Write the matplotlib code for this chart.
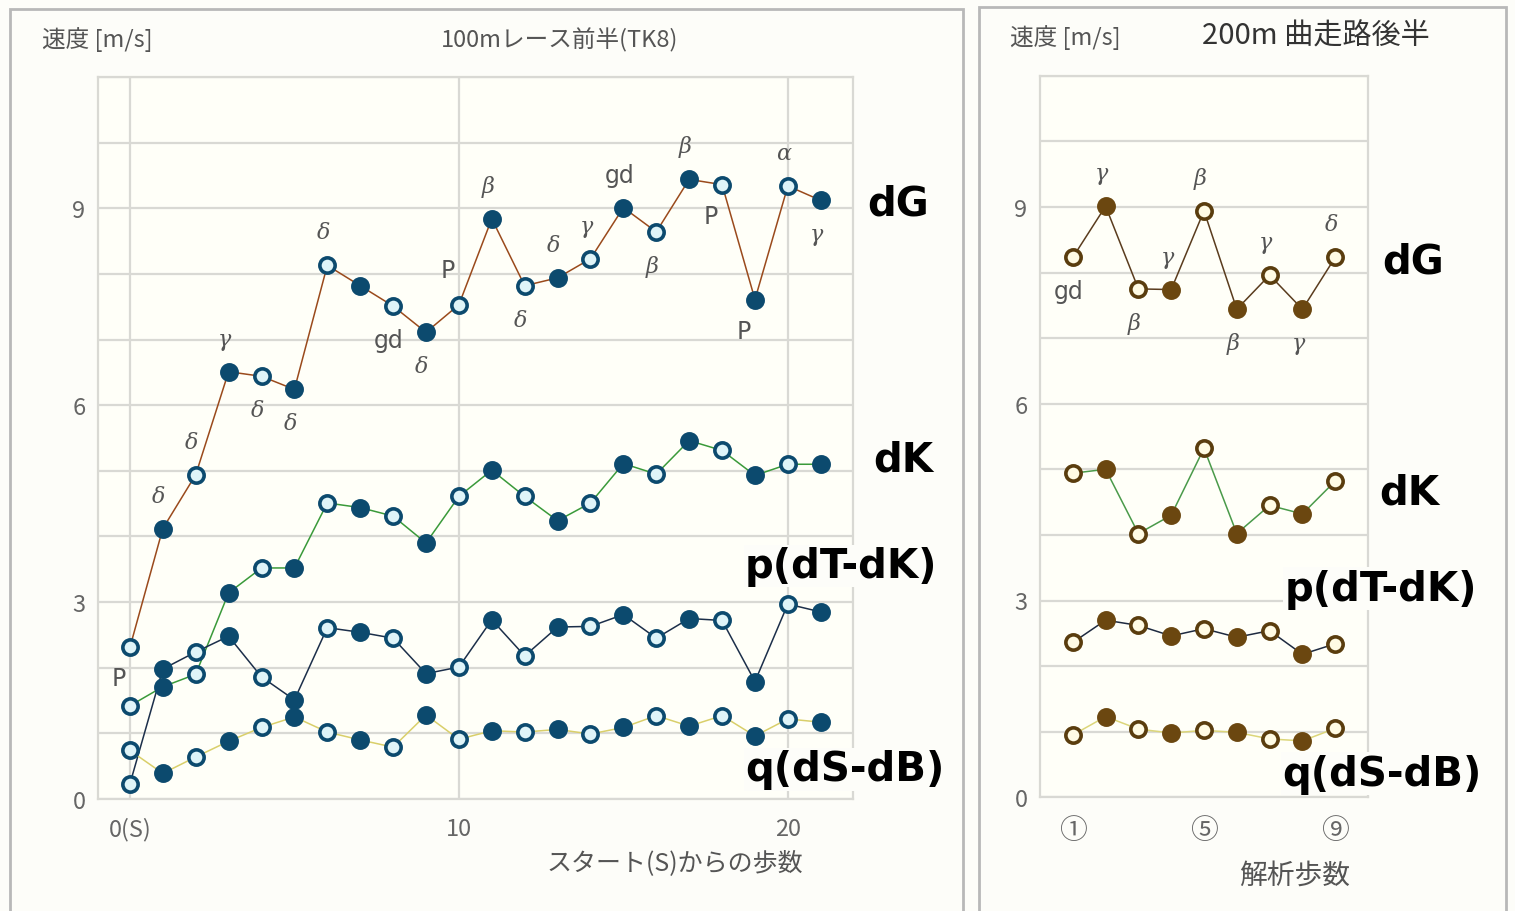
import matplotlib
matplotlib.use("Agg")
import matplotlib.pyplot as plt
from matplotlib.patches import Rectangle
from matplotlib.ticker import MultipleLocator

plt.rcParams['font.family'] = ['Noto Sans CJK JP', 'DejaVu Sans']

# -------------------------------------------------------------
# Data: 100m race first half (TK8)
# -------------------------------------------------------------
steps_100 = list(range(22))
dG_100 = [2.31, 4.12, 4.94, 6.51, 6.44, 6.24, 8.13, 7.82, 7.51, 7.11, 7.53,
          8.84, 7.82, 7.94, 8.23, 9.01, 8.64, 9.44, 9.36, 7.61, 9.34, 9.12]
dK_100 = [1.42, 1.71, 1.90, 3.14, 3.52, 3.52, 4.51, 4.44, 4.31, 3.90, 4.61,
          5.01, 4.61, 4.24, 4.51, 5.11, 4.95, 5.46, 5.31, 4.93, 5.10, 5.10]
p_100 = [0.23, 1.98, 2.24, 2.48, 1.86, 1.51, 2.61, 2.54, 2.45, 1.91, 2.01,
         2.73, 2.18, 2.62, 2.63, 2.81, 2.45, 2.75, 2.72, 1.79, 2.97, 2.85]
q_100 = [0.74, 0.39, 0.64, 0.88, 1.09, 1.25, 1.02, 0.90, 0.79, 1.28, 0.91,
         1.04, 1.02, 1.06, 0.99, 1.09, 1.27, 1.11, 1.27, 0.96, 1.22, 1.17]
tags_100 = ['P', 'δ', 'δ', 'γ', 'δ', 'δ', 'δ', '', 'gd', 'δ', 'P',
            'β', 'δ', 'δ', 'γ', 'gd', 'β', 'β', 'P', 'P', 'α', 'γ']
tag_pos_100 = ['bl', 'a', 'a', 'a', 'b', 'b', 'a', '', 'b', 'b', 'al',
               'a', 'b', 'a', 'a', 'a', 'b', 'a', 'bl', 'bl', 'a', 'b']
xticks_100 = [0, 10, 20]
xticklabels_100 = ['0(S)', '10', '20']

# -------------------------------------------------------------
# Data: 200m curve second half
# -------------------------------------------------------------
steps_200 = list(range(1, 10))
dG_200 = [8.23, 9.01, 7.75, 7.74, 8.94, 7.44, 7.96, 7.44, 8.23]
dK_200 = [4.94, 5.00, 4.02, 4.30, 5.32, 4.02, 4.45, 4.32, 4.82]
p_200 = [2.36, 2.70, 2.62, 2.46, 2.57, 2.44, 2.54, 2.18, 2.34]
q_200 = [0.95, 1.23, 1.04, 0.98, 1.02, 0.99, 0.89, 0.86, 1.05]
tags_200 = ['gd', 'γ', 'β', 'γ', 'β', 'β', 'γ', 'γ', 'δ']
tag_pos_200 = ['b', 'a', 'b', 'a', 'a', 'b', 'a', 'b', 'a']
xticks_200 = [1, 5, 9]
xticklabels_200 = ['①', '⑤', '⑨']

series_names = ['dG', 'dK', 'p(dT-dK)', 'q(dS-dB)']

W, H = 1515, 912
BG = '#fdfdf9'
PLOT_BG = '#fffff8'
GRID = '#d9d9d4'
TXT = '#666666'

TAG_OFFSETS = {'a': (-4, 33), 'b': (-4, -34), 'al': (-11, 35), 'bl': (-11, -31)}


def draw_series(ax, x, ys, line_colors, mk_fill, mk_open, mk_edge):
    for y, lc in zip(ys, line_colors):
        ax.plot(x, y, color=lc, lw=1.1, zorder=3)
        ax.plot(x[0::2], y[0::2], 'o', ms=11, mfc=mk_open, mec=mk_edge,
                mew=2.6, zorder=4, linestyle='none')
        ax.plot(x[1::2], y[1::2], 'o', ms=11, mfc=mk_fill, mec=mk_fill,
                mew=2.6, zorder=4, linestyle='none')


def style_axes(ax, xlim):
    ax.set_facecolor(PLOT_BG)
    ax.set_xlim(*xlim)
    ax.set_ylim(0, 11)
    ax.yaxis.set_major_locator(MultipleLocator(3))
    ax.yaxis.set_minor_locator(MultipleLocator(1))
    ax.grid(axis='y', which='both', color=GRID, lw=1.6, zorder=1)
    ax.set_axisbelow(True)
    for sp in ax.spines.values():
        sp.set_color(GRID)
        sp.set_linewidth(1.6)
    ax.tick_params(axis='both', which='both', length=0)
    ax.tick_params(axis='y', pad=9, labelsize=17, labelcolor=TXT)
    ax.tick_params(axis='x', pad=13, labelcolor=TXT)


def add_tags(ax, x, y, tags, pos):
    for xi, yi, t, p in zip(x, y, tags, pos):
        if not t:
            continue
        dx, dy = TAG_OFFSETS[p]
        greek = t in 'αβγδ'
        ax.annotate(t, (xi, yi), xytext=(dx, dy), textcoords='offset pixels',
                    ha='center', va='center', fontsize=16 if greek else 17,
                    color='#555555',
                    family=['DejaVu Serif'] if greek else ['DejaVu Sans'],
                    style='italic' if greek else 'normal', zorder=6)


def add_names(ax, positions):
    for name, (xn, yn) in zip(series_names, positions):
        ax.text(xn, yn, name, fontsize=29, fontweight='heavy', color='black',
                family=['DejaVu Sans'], ha='left', va='center', clip_on=False,
                zorder=10, bbox=dict(facecolor=BG, edgecolor='none', pad=1))


fig = plt.figure(figsize=(W / 100, H / 100), dpi=100, facecolor=BG)

# panel frames
fig.patches.append(Rectangle((10 / W, -0.02), 953 / W, 1.02 - 10 / H,
                             transform=fig.transFigure, fill=False,
                             edgecolor='#b8b8b8', lw=2))
fig.patches.append(Rectangle((979 / W, -0.02), 527 / W, 1.02 - 8 / H,
                             transform=fig.transFigure, fill=False,
                             edgecolor='#b8b8b8', lw=2))

# -------------------------------------------------------------
# Left panel
# -------------------------------------------------------------
ax1 = fig.add_axes([98 / W, 1 - 800 / H, 755 / W, 722 / H])
style_axes(ax1, (-0.97, 21.98))
ax1.set_xticks(xticks_100)
ax1.set_xticklabels(xticklabels_100, fontsize=17)
ax1.grid(axis='x', which='major', color=GRID, lw=1.6, zorder=1)
draw_series(ax1, steps_100, [dG_100, dK_100, p_100, q_100],
            ['#9a4a1c', '#3a9a3a', '#1c2f4a', '#d9cf6a'],
            '#0c4a6e', '#dff4f8', '#0c4a6e')
add_tags(ax1, steps_100, dG_100, tags_100, tag_pos_100)
add_names(ax1, [(22.4, 9.08), (22.6, 5.18), (18.7, 3.55), (18.7, 0.45)])

fig.text(42 / W, 1 - 40 / H, '速度 [m/s]', fontsize=17, color='#555555',
         ha='left', va='center')
fig.text(560 / W, 1 - 40 / H, '100mレース前半(TK8)', fontsize=17,
         color='#555555', ha='center', va='center')
fig.text(675 / W, 1 - 863 / H, 'スタート(S)からの歩数', fontsize=18,
         color='#555555', ha='center', va='center')

# -------------------------------------------------------------
# Right panel
# -------------------------------------------------------------
ax2 = fig.add_axes([1040 / W, 1 - 798.3 / H, 328 / W, 721.6 / H])
style_axes(ax2, (0, 10))
ax2.set_xticks(xticks_200)
ax2.set_xticklabels(xticklabels_200, fontsize=20)
draw_series(ax2, steps_200, [dG_200, dK_200, p_200, q_200],
            ['#5a3c1e', '#4a9a4a', '#1e2a40', '#dcd67a'],
            '#6b4710', '#fffbe4', '#5a3d0e')
add_tags(ax2, steps_200, dG_200, tags_200, tag_pos_200)
add_names(ax2, [(10.42, 8.17), (10.33, 4.64), (7.45, 3.18), (7.39, 0.36)])

fig.text(1010 / W, 1 - 38 / H, '速度 [m/s]', fontsize=17, color='#555555',
         ha='left', va='center')
fig.text(1316 / W, 1 - 37 / H, '200m 曲走路後半', fontsize=21,
         color='#333333', ha='center', va='center')
fig.text(1295 / W, 1 - 876 / H, '解析歩数', fontsize=20,
         color='#555555', ha='center', va='center')

fig.savefig('out.png', dpi=100, facecolor=BG)
plt.close(fig)
